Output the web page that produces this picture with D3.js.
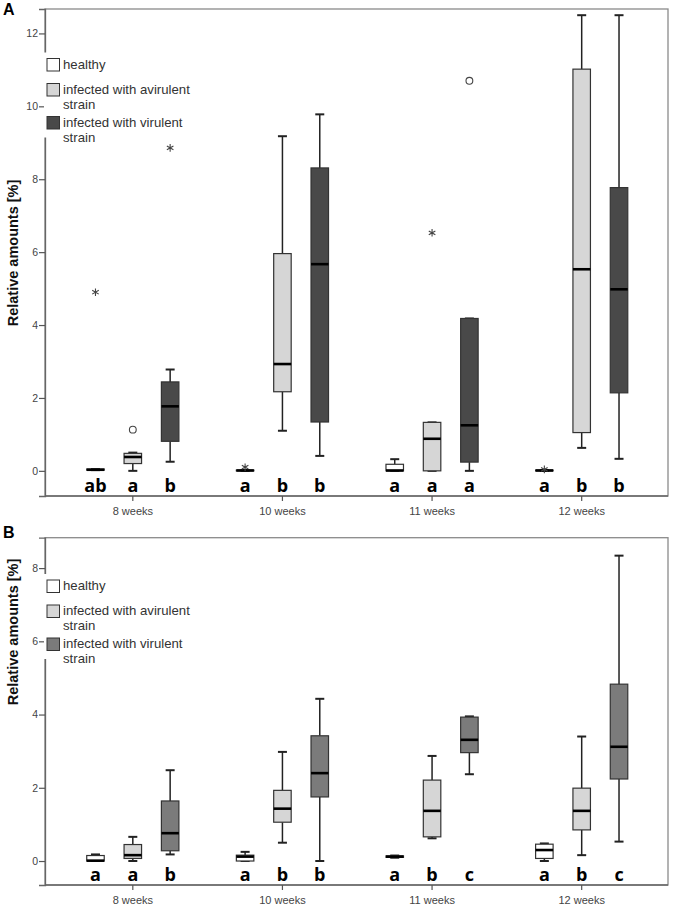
<!DOCTYPE html>
<html>
<head>
<meta charset="utf-8">
<script src="https://cdn.jsdelivr.net/npm/d3@7"></script>
<style>
  html, body { margin: 0; padding: 0; background: #fff; }
  svg { display: block; }
</style>
</head>
<body>
<svg id="chart" width="680" height="914"></svg>
<script>
// ---------- DATA ----------
const weeks = ["8 weeks", "10 weeks", "11 weeks", "12 weeks"];
const groups = ["healthy", "infected with avirulent strain", "infected with virulent strain"];
const legendLines = [["healthy"], ["infected with avirulent", "strain"], ["infected with virulent", "strain"]];

// [lower whisker, q1, median, q3, upper whisker] for each week, per group
const aHealthy   = [[0.02, 0.02, 0.03, 0.05, 0.05], [0, 0, 0.01, 0.02, 0.02], [0, 0, 0.01, 0.18, 0.32], [0, 0, 0.01, 0.02, 0.02]];
const aAvirulent = [[0, 0.2, 0.38, 0.48, 0.5], [1.1, 2.17, 2.93, 5.96, 9.18], [0, 0, 0.88, 1.33, 1.33], [0.63, 1.05, 5.53, 11.02, 12.5]];
const aVirulent  = [[0.25, 0.81, 1.77, 2.44, 2.78], [0.41, 1.34, 5.67, 8.31, 9.78], [0, 0.24, 1.25, 4.18, 4.18], [0.33, 2.14, 4.98, 7.77, 12.5]];
// outliers: [week index, group index, value, kind]
const aOutliers = [[0, 0, 4.9, "star"], [0, 1, 1.13, "circle"], [0, 2, 8.86, "star"], [1, 0, 0.1, "star"], [2, 1, 6.53, "star"], [2, 2, 10.7, "circle"], [3, 0, 0.04, "star"]];
const aLetters = [["ab", "a", "b"], ["a", "b", "b"], ["a", "a", "a"], ["a", "b", "b"]];
const aTicks = [0, 2, 4, 6, 8, 10, 12];

const bHealthy   = [[0, 0, 0.01, 0.15, 0.18], [0, 0, 0.12, 0.16, 0.25], [0.09, 0.1, 0.12, 0.14, 0.15], [0, 0.07, 0.3, 0.46, 0.48]];
const bAvirulent = [[0, 0.07, 0.16, 0.45, 0.66], [0.5, 1.06, 1.43, 1.93, 2.98], [0.62, 0.66, 1.37, 2.21, 2.87], [0.16, 0.85, 1.37, 1.99, 3.4]];
const bVirulent  = [[0.18, 0.28, 0.76, 1.64, 2.48], [0, 1.75, 2.4, 3.42, 4.43], [2.37, 2.96, 3.31, 3.93, 3.95], [0.53, 2.24, 3.12, 4.83, 8.34]];
const bOutliers = [];
const bLetters = [["a", "a", "b"], ["a", "b", "b"], ["a", "b", "c"], ["a", "b", "c"]];
const bTicks = [0, 2, 4, 6, 8];

// ---------- STYLE ----------
const fillA = ["#ffffff", "#d6d6d6", "#494949"];
const fillB = ["#ffffff", "#d6d6d6", "#7b7b7b"];
const sans = "Arial, 'Liberation Sans', sans-serif";

const svg = d3.select("#chart");

function drawPanel(cfg) {
  const g = svg.append("g");
  const y = d3.scaleLinear().domain(cfg.yDomain).range([cfg.bottom, cfg.top]);
  const x = d3.scaleBand().domain(weeks).range([58, 656.5]).padding(0);
  const xi = d3.scaleBand().domain(d3.range(groups.length)).range([-56, 56]).padding(0);
  const boxW = 17.5;
  const cx = (w, k) => x(weeks[w]) + x.bandwidth() / 2 + xi(k) + xi.bandwidth() / 2;

  // frame
  g.append("rect").attr("x", 45).attr("y", cfg.top).attr("width", 668 - 45).attr("height", cfg.bottom - cfg.top)
    .attr("fill", "none").attr("stroke", "#8a8a8a").attr("stroke-width", 1.3);

  // y axis
  const yAxis = g.append("g").attr("transform", "translate(45,0)")
    .call(d3.axisLeft(y).tickValues(cfg.ticks).tickSize(6).tickPadding(1).tickFormat(d3.format("d")));
  yAxis.select(".domain").attr("stroke", "#666").attr("stroke-width", 1.3);
  yAxis.selectAll(".tick line").attr("stroke", "#555").attr("stroke-width", 1.2);
  yAxis.selectAll(".tick text").attr("font-family", sans).attr("font-size", 10.5).attr("fill", "#444");

  // x axis
  const xAxis = g.append("g").attr("transform", `translate(0,${cfg.bottom})`)
    .call(d3.axisBottom(x).tickSize(5).tickPadding(6));
  xAxis.select(".domain").attr("stroke", "#666").attr("stroke-width", 1.3).attr("d", `M45,0H668`);
  xAxis.selectAll(".tick line").attr("stroke", "#555").attr("stroke-width", 1.2);
  xAxis.selectAll(".tick text").attr("font-family", sans).attr("font-size", 11).attr("fill", "#444");

  // boxes
  cfg.series.forEach((ser, k) => {
    ser.forEach((s, w) => {
      const c = cx(w, k);
      const [lo, q1, med, q3, hi] = s;
      const wcol = "#222";
      g.append("line").attr("x1", c).attr("x2", c).attr("y1", y(hi)).attr("y2", y(q3)).attr("stroke", wcol).attr("stroke-width", 1.5);
      g.append("line").attr("x1", c).attr("x2", c).attr("y1", y(q1)).attr("y2", y(lo)).attr("stroke", wcol).attr("stroke-width", 1.5);
      g.append("line").attr("x1", c - 4.5).attr("x2", c + 4.5).attr("y1", y(hi)).attr("y2", y(hi)).attr("stroke", wcol).attr("stroke-width", 2);
      g.append("line").attr("x1", c - 4.5).attr("x2", c + 4.5).attr("y1", y(lo)).attr("y2", y(lo)).attr("stroke", wcol).attr("stroke-width", 2);
      g.append("rect").attr("x", c - boxW / 2).attr("y", y(q3)).attr("width", boxW).attr("height", Math.max(0.5, y(q1) - y(q3)))
        .attr("fill", cfg.fills[k]).attr("stroke", "#333").attr("stroke-width", 1.2);
      g.append("line").attr("x1", c - boxW / 2).attr("x2", c + boxW / 2).attr("y1", y(med)).attr("y2", y(med))
        .attr("stroke", "#000").attr("stroke-width", 2.6);
    });
  });

  // outliers
  cfg.outliers.forEach(o => {
    const c = cx(o[0], o[1]);
    if (o[3] === "circle") {
      g.append("circle").attr("cx", c).attr("cy", y(o[2])).attr("r", 3.4).attr("fill", "#fff").attr("stroke", "#444").attr("stroke-width", 1.1);
    } else {
      g.append("path").attr("d", d3.symbol(d3.symbolAsterisk, 40)()).attr("transform", `translate(${c},${y(o[2])})`)
        .attr("stroke", "#444").attr("stroke-width", 1.1).attr("fill", "none");
    }
  });

  // significance letters
  cfg.letters.forEach((row, w) => {
    row.forEach((t, k) => {
      g.append("text").attr("x", cx(w, k)).attr("y", cfg.bottom - 4).attr("text-anchor", "middle")
        .attr("font-family", "'Open Sans', 'Noto Sans', sans-serif").attr("font-weight", 700).attr("font-size", 18)
        .attr("fill", "#000").text(t);
    });
  });

  // legend
  g.append("rect").attr("x", 44).attr("y", cfg.legendTop - 6).attr("width", 150).attr("height", 85).attr("fill", "#fff");
  const rowOff = [0, 25, 58];
  legendLines.forEach((lines, k) => {
    const ty = cfg.legendTop + rowOff[k];
    g.append("rect").attr("x", 47).attr("y", ty).attr("width", 12.5).attr("height", 12.5)
      .attr("fill", cfg.fills[k]).attr("stroke", "#333").attr("stroke-width", 1);
    lines.forEach((ln, j) => {
      g.append("text").attr("x", 63).attr("y", ty + 10 + j * 15)
        .attr("font-family", sans).attr("font-size", 13.2).attr("fill", "#333").text(ln);
    });
  });

  // y title
  g.append("text").attr("transform", `translate(18,${cfg.titleY}) rotate(-90)`).attr("text-anchor", "middle")
    .attr("font-family", sans).attr("font-weight", "bold").attr("font-size", 14.5)
    .attr("fill", "#111").text("Relative amounts [%]");

  // panel letter
  g.append("text").attr("x", 3).attr("y", cfg.letterY).attr("font-family", sans)
    .attr("font-weight", "bold").attr("font-size", 16).attr("fill", "#000").text(cfg.label);
}

drawPanel({
  label: "A", letterY: 15, top: 9, bottom: 496, yDomain: [-0.69, 12.67], ticks: aTicks,
  series: [aHealthy, aAvirulent, aVirulent], outliers: aOutliers, letters: aLetters, fills: fillA,
  legendTop: 58.5, titleY: 253
});
drawPanel({
  label: "B", letterY: 538, top: 537.7, bottom: 885, yDomain: [-0.655, 8.83], ticks: bTicks,
  series: [bHealthy, bAvirulent, bVirulent], outliers: bOutliers, letters: bLetters, fills: fillB,
  legendTop: 580, titleY: 632
});
</script>
</body>
</html>
